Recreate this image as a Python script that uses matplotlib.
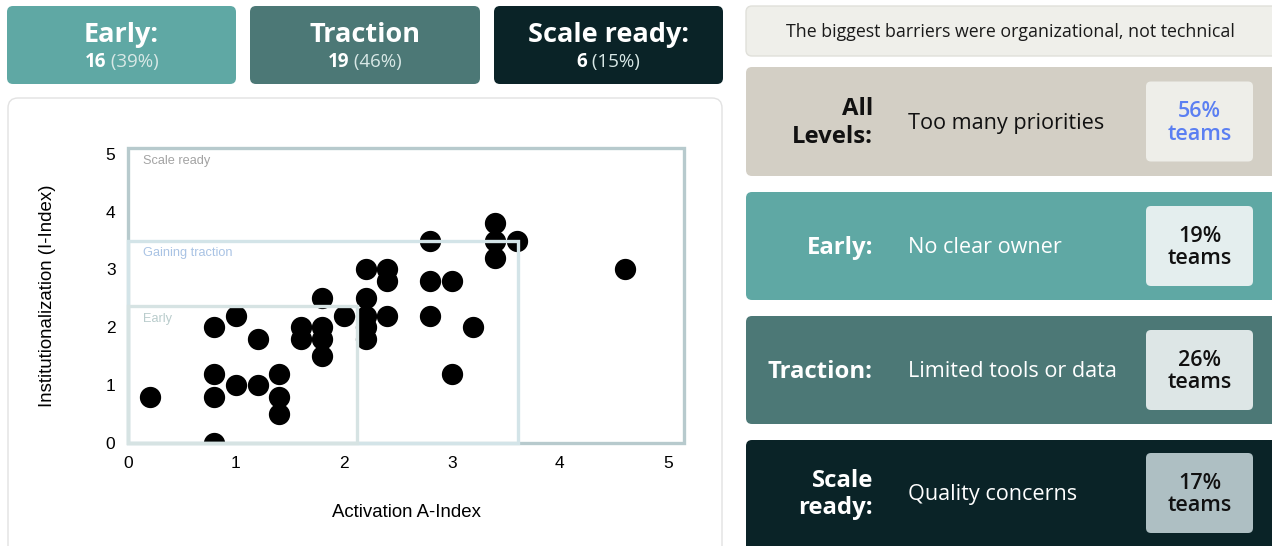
import matplotlib
matplotlib.use("Agg")
import matplotlib.pyplot as plt
from matplotlib.patches import FancyBboxPatch, Rectangle

# scatter data (A-Index, I-Index)
a_index = [0.2, 0.8, 0.8, 0.8, 0.8, 1.0, 1.0, 1.2, 1.2, 1.4, 1.4, 1.4,
           1.6, 1.6, 1.8, 1.8, 1.8, 1.8, 2.0, 2.2, 2.2, 2.2, 2.2, 2.2,
           2.4, 2.4, 2.4, 2.8, 2.8, 2.8, 3.0, 3.0, 3.2, 3.4, 3.4, 3.4,
           3.6, 4.6]
i_index = [0.8, 0.0, 0.8, 1.2, 2.0, 2.2, 1.0, 1.0, 1.8, 1.2, 0.8, 0.5,
           2.0, 1.8, 2.5, 2.0, 1.8, 1.5, 2.2, 3.0, 2.5, 2.2, 2.0, 1.8,
           3.0, 2.8, 2.2, 3.5, 2.8, 2.2, 2.8, 1.2, 2.0, 3.8, 3.5, 3.2,
           3.5, 3.0]

# stage regions: name, upper A bound, upper I bound
region_names = ["Scale ready", "Gaining traction", "Early"]
region_a = [5.15, 3.61, 2.12]
region_i = [5.1, 3.5, 2.36]
region_edge = ["#b7cacd", "#d3e4e8", "#d6e3e3"]
region_text = ["#a3a3a3", "#a9c3e4", "#b9cccc"]

# summary cards
stage_names = ["Early:", "Traction", "Scale ready:"]
stage_counts = [16, 19, 6]
stage_pcts = [39, 46, 15]
stage_colors = ["#5fa8a4", "#4c7876", "#0a2327"]

# barrier cards
barrier_labels = ["All\nLevels:", "Early:", "Traction:", "Scale\nready:"]
barrier_texts = ["Too many priorities", "No clear owner", "Limited tools or data", "Quality concerns"]
barrier_pcts = [56, 19, 26, 17]
barrier_bg = ["#d3cfc5", "#5fa8a4", "#4c7876", "#0a2327"]
barrier_fg = ["#111111", "white", "white", "white"]
barrier_inner = ["#eeeee9", "#e4eeee", "#dde6e6", "#aebfc3"]
barrier_pct_color = ["#5b7ff2", "#111111", "#111111", "#111111"]

W, H = 1272, 546
fig = plt.figure(figsize=(W / 100, H / 100), dpi=100)
fig.patch.set_facecolor("white")

bg = fig.add_axes([0, 0, 1, 1])
bg.set_xlim(0, W)
bg.set_ylim(H, 0)
bg.axis("off")

CARD = "Open Sans"
CHART = "Liberation Sans"


def card(x0, y0, x1, y1, fc, ec="none", r=6, lw=1):
    bg.add_patch(FancyBboxPatch((x0, y0), x1 - x0, y1 - y0,
                                boxstyle="round,pad=0,rounding_size=%d" % r,
                                fc=fc, ec=ec, lw=lw))


# top stage cards
card_x = [(7, 236), (250, 480), (494, 723)]
for (x0, x1), name, n, p, c in zip(card_x, stage_names, stage_counts, stage_pcts, stage_colors):
    card(x0, 6, x1, 84, c)
    cx = (x0 + x1) / 2
    bg.text(cx, 35, name, ha="center", va="center", color="white",
            fontsize=19.5, fontweight="bold", family=CARD)
    t1 = bg.text(cx, 62, str(n), ha="left", va="center", color="white",
                 fontsize=13.5, fontweight="bold", family=CARD)
    t2 = bg.text(cx, 62, " (%d%%)" % p, ha="left", va="center", color="#d8e8e6",
                 fontsize=13.5, family=CARD)
    r = fig.canvas.get_renderer()
    w1 = t1.get_window_extent(r).width
    w2 = t2.get_window_extent(r).width
    t1.set_x(cx - (w1 + w2) / 2)
    t2.set_x(cx - (w1 + w2) / 2 + w1)

# left chart panel
card(8, 98, 722, 560, "white", ec="#e2e2e2", r=10)

# right title
card(746, 6, 1285, 56, "#efefea", ec="#e0e0da")
bg.text(1010, 32, "The biggest barriers were organizational, not technical",
        ha="center", va="center", fontsize=12.8, color="#1a1a1a", family=CARD)

card_y = [(67, 176), (192, 300), (316, 424), (440, 560)]
for i, (y0, y1) in enumerate(card_y):
    card(746, y0, 1285, y1, barrier_bg[i])
    cy = (y0 + min(y1, 548)) / 2 if i < 3 else 493
    bg.text(873, cy + 1.5, barrier_labels[i], ha="right", va="center", color=barrier_fg[i],
            fontsize=17.2, fontweight="bold", family=CARD, linespacing=1.2)
    bg.text(908, cy + 1.5, barrier_texts[i], ha="left", va="center", color=barrier_fg[i],
            fontsize=15.6, family=CARD)
    card(1146, cy - 40, 1253, cy + 40, barrier_inner[i], r=5)
    bg.text(1199.5, cy + 1.5, "%d%%\nteams" % barrier_pcts[i], ha="center", va="center",
            color=barrier_pct_color[i], fontsize=15.5, fontweight="semibold",
            family=CARD, linespacing=1.1)

# scatter plot
ax = fig.add_axes([128 / W, 1 - 443 / H, 556 / W, 295 / H])
ax.patch.set_alpha(0)
ax.set_xlim(0, region_a[0])
ax.set_ylim(0, region_i[0])
for s in ax.spines.values():
    s.set_visible(False)
ax.scatter(a_index, i_index, s=205, color="black", zorder=2)
for name, a, i_, ec, tc in zip(region_names, region_a, region_i, region_edge, region_text):
    ax.add_patch(Rectangle((0, 0), a, i_, fill=False, ec=ec, lw=2.4, zorder=3, clip_on=False))
    ax.text(0.14, i_ - 0.22, name, ha="left", va="center", fontsize=9.2, color=tc,
            family=CHART)
ax.set_xticks(range(6))
ax.set_yticks(range(6))
ax.tick_params(length=0, labelsize=12.5, pad=9)
for lab in ax.get_xticklabels() + ax.get_yticklabels():
    lab.set_family(CHART)
ax.set_xlabel("Activation A-Index", fontsize=13.4, family=CHART, labelpad=24)
ax.set_ylabel("Institutionalization (I-Index)", fontsize=13.4, family=CHART, labelpad=36)

fig.savefig("out.png", dpi=100)
